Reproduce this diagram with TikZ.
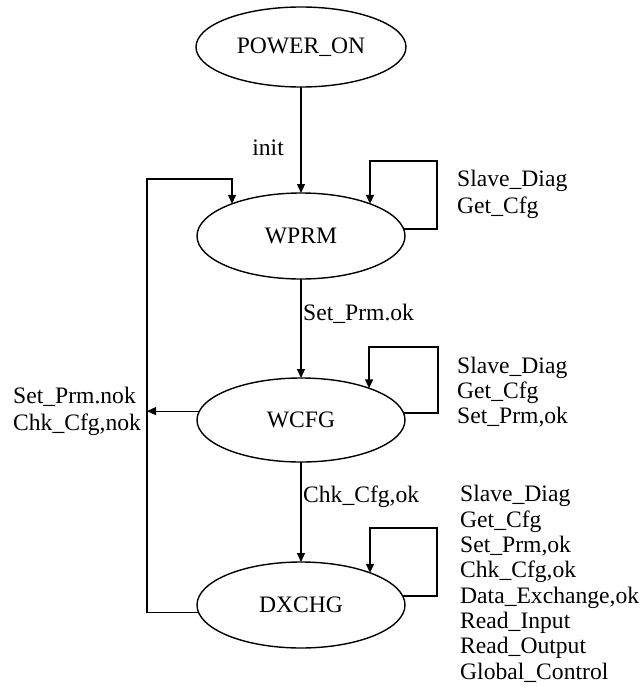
\documentclass[tikz,border=0pt]{standalone}
\usepackage{fontspec}
\setmainfont{Liberation Serif}
\usetikzlibrary{arrows.meta,shapes.geometric}
\begin{document}
\begin{tikzpicture}[x=1pt,y=-1pt,
  state/.style={draw, ellipse, line width=1.4pt, minimum width=208pt, minimum height=86pt, inner sep=0pt, outer sep=0pt, font=\fontsize{23.6}{25}\selectfont},
  arr/.style={line width=1.1pt, -{Triangle[length=9pt,width=8pt]}},
  loopline/.style={line width=1.8pt, -{Triangle[length=9pt,width=8pt]}},
  lbl/.style={inner sep=0pt, align=left, font=\fontsize{23.6}{25}\selectfont},
  lbld/.style={inner sep=0pt, align=left, font=\fontsize{23.6}{25.3}\selectfont},
  lblw/.style={inner sep=0pt, align=left, font=\fontsize{23.6}{27}\selectfont}]
\useasboundingbox (0,0) rectangle (641,698);
\node[state, minimum width=210pt, minimum height=80pt] (pon) at (301,47) {POWER\_ON};
\node[state] (wprm) at (301,236) {WPRM};
\node[state, minimum height=84pt] (wcfg) at (301,420) {WCFG};
\node[state] (dxchg) at (301,605) {DXCHG};
\coordinate (c1) at (437,161);
\coordinate (c2) at (438,347);
\coordinate (c3) at (437,528);
\coordinate (fb) at (147,179);
\draw[arr] (pon) -- (wprm);
\draw[arr] (wprm) -- (wcfg);
\draw[arr] (wcfg) -- (dxchg);
\draw[loopline] (wprm.4.5) -| (c1) -| (wprm.25.5);
\draw[loopline] (wcfg.4.5) -| (c2) -| (wcfg.25.1);
\draw[loopline] (dxchg.5) -| (c3) -| (dxchg.25.5);
\draw[arr] (dxchg.184.5) -| (fb) -| (wprm.155);
\draw[arr] (wcfg.175.5) -- (wcfg.175.5 -| fb);
\node[lbl, anchor=base east] (linit) at (284,155) {init};
\node[lbl, anchor=base west] (lsp) at (303,320) {Set\_Prm.ok};
\node[lbl, anchor=base west] (lcc) at (303,502) {Chk\_Cfg,ok};
\node[lblw, anchor=base west] (lnok) at (13,430) {Set\_Prm.nok\\Chk\_Cfg,nok};
\node[lblw, anchor=base west] (lw) at (457,213) {Slave\_Diag\\Get\_Cfg};
\node[lbl, anchor=base west] (lc) at (457,423) {Slave\_Diag\\Get\_Cfg\\Set\_Prm,ok};
\node[lbld, anchor=base west] (ld) at (460,679) {Slave\_Diag\\Get\_Cfg\\Set\_Prm,ok\\Chk\_Cfg,ok\\Data\_Exchange,ok\\Read\_Input\\Read\_Output\\Global\_Control};
\end{tikzpicture}
\end{document}
